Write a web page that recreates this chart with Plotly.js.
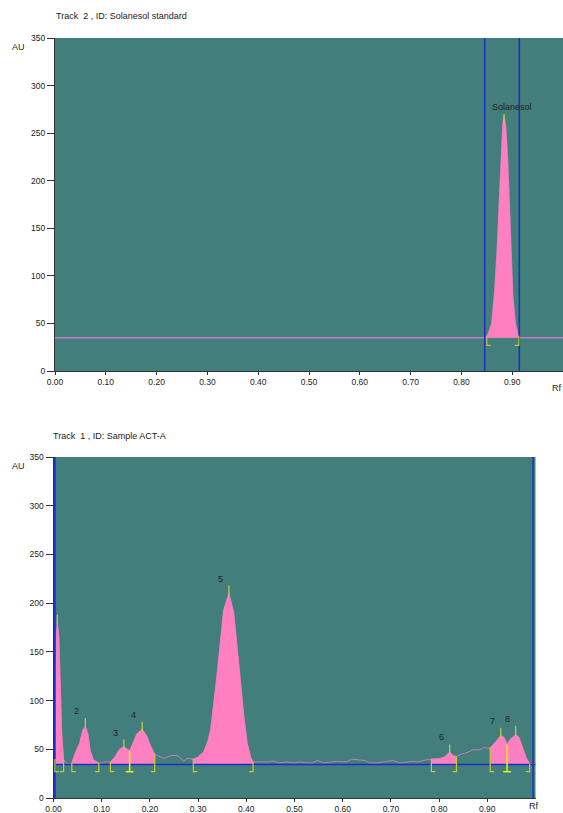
<!DOCTYPE html>
<html><head><meta charset="utf-8">
<script src="https://cdn.plot.ly/plotly-3.0.1.min.js"></script>
<style>html,body{margin:0;padding:0;background:#fff}#chart{width:563px;height:813px}</style>
</head><body><div id="chart"></div>
<script>
// ---------- Track 2 : Solanesol standard ----------
const stdRf = [0.000, 0.200, 0.400, 0.600, 0.800, 0.848, 0.850, 0.855, 0.860, 0.866, 0.871, 0.875, 0.879, 0.882, 0.884, 0.887, 0.891, 0.896, 0.901, 0.906, 0.909, 0.912, 0.914, 0.950, 1.000];
const stdAU = [35, 35, 35, 35, 35, 35, 36, 42, 50, 85, 130.6, 183, 236, 260, 267, 257, 218, 148, 78, 50, 42, 36, 35, 35, 35];
const stdBaseline = 35;
const stdPeakRanges = [[0.848, 0.914]];
const stdPeakTopRf = [0.884];
const stdTickTopAU = [270];
const stdPeakNames = ['Solanesol'];
const stdWindowLines = [0.846, 0.914];
const stdBrackets = [[0.850, 35, 1], [0.913, 37, -1]];

// ---------- Track 1 : Sample ACT-A ----------
const smpRf = [0.000, 0.002, 0.004, 0.006, 0.008, 0.011, 0.014, 0.017, 0.021, 0.026, 0.032, 0.038, 0.045, 0.054, 0.061, 0.066, 0.071, 0.076, 0.083, 0.094,
  0.100, 0.106, 0.112, 0.118, 0.128, 0.137, 0.146, 0.153, 0.158, 0.165, 0.173, 0.184, 0.194, 0.202, 0.210, 0.218, 0.229, 0.243, 0.256, 0.264,
  0.270, 0.277, 0.290, 0.300, 0.312, 0.320, 0.326, 0.332, 0.339, 0.346, 0.353, 0.364, 0.374, 0.381, 0.388, 0.395, 0.402, 0.409, 0.414, 0.425,
  0.437, 0.447, 0.457, 0.467, 0.484, 0.498, 0.511, 0.525, 0.536, 0.549, 0.559, 0.573, 0.587, 0.601, 0.611, 0.618, 0.632, 0.646, 0.656, 0.670,
  0.684, 0.705, 0.718, 0.732, 0.746, 0.756, 0.767, 0.784, 0.801, 0.811, 0.822, 0.829, 0.836, 0.846, 0.860, 0.870, 0.884, 0.894, 0.901, 0.906,
  0.911, 0.918, 0.928, 0.935, 0.941, 0.948, 0.959, 0.966, 0.973, 0.980, 0.988, 0.995, 1.000];
const smpAU = [36, 40, 111, 169, 180, 166, 118, 67, 39, 36, 35, 36, 46, 56, 70, 73, 67, 49, 39, 36,
  36, 37, 37, 37, 42.6, 50, 52.7, 50, 48.5, 56, 66, 70.5, 63, 52.7, 45, 43, 40.6, 43.3, 44, 41,
  37.6, 40.6, 40, 42, 47.6, 58, 70, 94, 124.6, 159, 193, 210, 190, 155, 118, 83.5, 56, 42, 37, 37,
  37.4, 37, 38, 36, 37, 36, 37, 36, 36, 38.5, 36, 37, 37.5, 37, 37.5, 40, 39, 38.5, 36, 36,
  37, 38.5, 36, 37, 37.5, 37, 38.5, 40, 40.4, 42, 47, 43.5, 42.5, 45, 47, 49.5, 49.5, 52, 51, 51.5,
  54, 58, 64, 62, 55, 60.5, 65, 62, 52, 42, 35, 35, 35];
const smpBaseline = 34.5;
const smpPeakRanges = [[0.002, 0.021], [0.038, 0.094], [0.118, 0.158], [0.158, 0.210], [0.290, 0.414], [0.784, 0.836], [0.906, 0.941], [0.941, 0.988]];
const smpPeakTopRf = [0.008, 0.066, 0.146, 0.184, 0.364, 0.822, 0.928, 0.959];
const smpTickTopAU = [188, 82, 60, 78, 218, 55, 72, 74];
const smpPeakNames = ['', '2', '3', '4', '5', '6', '7', '8'];
const smpWindowLines = [0.002, 0.995];
const smpBrackets = [[0.003, 40, 1], [0.021, 39, -1], [0.038, 36, 1], [0.094, 36, -1], [0.118, 37, 1], [0.158, 48.5, 0], [0.210, 45, -1],
  [0.290, 40, 1], [0.414, 37, -1], [0.784, 40, 1], [0.836, 42.5, -1], [0.906, 51.5, 1], [0.941, 55, 0], [0.988, 35, -1]];

const xTickVals = [0, 0.1, 0.2, 0.3, 0.4, 0.5, 0.6, 0.7, 0.8, 0.9];
const xTickText = ['0.00', '0.10', '0.20', '0.30', '0.40', '0.50', '0.60', '0.70', '0.80', '0.90'];
const yTickVals = [0, 50, 100, 150, 200, 250, 300, 350];

// ---------- styling ----------
const TEAL = '#427E7C', PINK = '#FF80C0', MAUVE = '#C57CC0', BLUE = '#1A30C8';
const BRK = '#C8C832', SEP = '#F0F000', TICK = '#C8D040';
const FONT = {family: 'Liberation Sans, Arial, sans-serif', size: 9, color: '#222'};
const TFONT = {family: 'Liberation Sans, Arial, sans-serif', size: 8.5, color: '#222'};
const FOOT = 27, FW = 0.008;

function buildTrack(rf, au, base, ranges, topRf, tickTop, wins, brackets, xa, ya, isSample) {
  const tr = [];
  tr.push({x: rf, y: au, xaxis: xa, yaxis: ya, mode: 'lines', line: {color: MAUVE, width: isSample ? 1 : 1.6}, hoverinfo: 'skip'});
  ranges.forEach(r => {
    const px = [], py = [];
    rf.forEach((v, i) => { if (v >= r[0] - 1e-9 && v <= r[1] + 1e-9) { px.push(v); py.push(au[i]); } });
    px.push(r[1], r[0]); py.push(base, base);
    tr.push({x: px, y: py, xaxis: xa, yaxis: ya, mode: 'lines', fill: 'toself', fillcolor: PINK, line: {color: PINK, width: 0.5}, hoverinfo: 'skip'});
  });
  if (isSample) {
    tr.push({x: [0, 1], y: [base, base], xaxis: xa, yaxis: ya, mode: 'lines', line: {color: BLUE, width: 1.5}, hoverinfo: 'skip'});
  }
  wins.forEach((w, k) => {
    tr.push({x: [w, w], y: [0, 350], xaxis: xa, yaxis: ya, mode: 'lines', line: {color: BLUE, width: (isSample && k === 0) ? 2.5 : 1.5}, hoverinfo: 'skip'});
  });
  const tx = [], ty = [];
  topRf.forEach((v, i) => { tx.push(v, v, null); ty.push(tickTop[i] - 10, tickTop[i], null); });
  tr.push({x: tx, y: ty, xaxis: xa, yaxis: ya, mode: 'lines', line: {color: TICK, width: 1.2}, hoverinfo: 'skip'});
  const bx = [], by = [], sx = [], sy = [];
  brackets.forEach(b => {
    const [x, top, d] = b;
    if (d === 0) { sx.push(x - FW, x + FW, null, x, x, null); sy.push(FOOT, FOOT, null, FOOT, top, null); }
    else { bx.push(x + d * FW, x, x, null); by.push(FOOT, FOOT, top, null); }
  });
  tr.push({x: bx, y: by, xaxis: xa, yaxis: ya, mode: 'lines', line: {color: BRK, width: 1.2}, hoverinfo: 'skip'});
  tr.push({x: sx, y: sy, xaxis: xa, yaxis: ya, mode: 'lines', line: {color: SEP, width: 1.5}, hoverinfo: 'skip'});
  return tr;
}

const traces = [].concat(
  buildTrack(stdRf, stdAU, stdBaseline, stdPeakRanges, stdPeakTopRf, stdTickTopAU, stdWindowLines, stdBrackets, 'x', 'y', false),
  buildTrack(smpRf, smpAU, smpBaseline, smpPeakRanges, smpPeakTopRf, smpTickTopAU, smpWindowLines, smpBrackets, 'x2', 'y2', true)
);

const annotations = [];
stdPeakNames.forEach((n, i) => { if (n) annotations.push({xref: 'x', yref: 'y', x: stdPeakTopRf[i], y: stdTickTopAU[i], text: n, showarrow: false, xanchor: 'left', yanchor: 'middle', xshift: -14, yshift: 7, font: FONT}); });
smpPeakNames.forEach((n, i) => { if (n) annotations.push({xref: 'x2', yref: 'y2', x: smpPeakTopRf[i], y: smpTickTopAU[i], text: n, showarrow: false, xanchor: 'left', yanchor: 'middle', xshift: -13, yshift: 7, font: FONT}); });
const P = (px, py) => ({x: px / 563, y: 1 - py / 813});
[
  [P(54, 16), 'Track  2 , ID: Solanesol standard', 'left', 'middle'],
  [P(51, 436), 'Track  1 , ID: Sample ACT-A', 'left', 'middle'],
  [P(10, 47), 'AU', 'left', 'middle'],
  [P(10, 466), 'AU', 'left', 'middle'],
  [P(557, 388), 'Rf', 'center', 'middle'],
  [P(534, 813), 'Rf', 'center', 'bottom']
].forEach(a => annotations.push({xref: 'paper', yref: 'paper', x: a[0].x, y: a[0].y, text: a[1], showarrow: false, xanchor: a[2], yanchor: a[3], font: FONT}));

const xCommon = {range: [0, 1], tickvals: xTickVals, ticktext: xTickText, ticks: 'outside', ticklen: 3, tickcolor: '#333', showline: true, linecolor: '#333', linewidth: 1, showgrid: false, zeroline: false, tickfont: TFONT, fixedrange: true};
const yCommon = {range: [0, 350], tickvals: yTickVals, ticks: 'outside', ticklen: 7, tickcolor: '#333', showline: true, linecolor: '#333', linewidth: 1, showgrid: false, zeroline: false, tickfont: TFONT, fixedrange: true};

const layout = {
  width: 563, height: 813,
  margin: {l: 0, r: 0, t: 0, b: 0},
  paper_bgcolor: '#fff', plot_bgcolor: TEAL,
  showlegend: false,
  xaxis: Object.assign({}, xCommon, {domain: [55 / 563, 1], anchor: 'y'}),
  yaxis: Object.assign({}, yCommon, {domain: [1 - 371 / 813, 1 - 38 / 813], anchor: 'x'}),
  xaxis2: Object.assign({}, xCommon, {domain: [53.5 / 563, 535.5 / 563], anchor: 'y2'}),
  yaxis2: Object.assign({}, yCommon, {domain: [1 - 798 / 813, 1 - 457 / 813], anchor: 'x2'}),
  annotations: annotations
};

Plotly.newPlot('chart', traces, layout, {displayModeBar: false, staticPlot: true});
</script></body></html>
